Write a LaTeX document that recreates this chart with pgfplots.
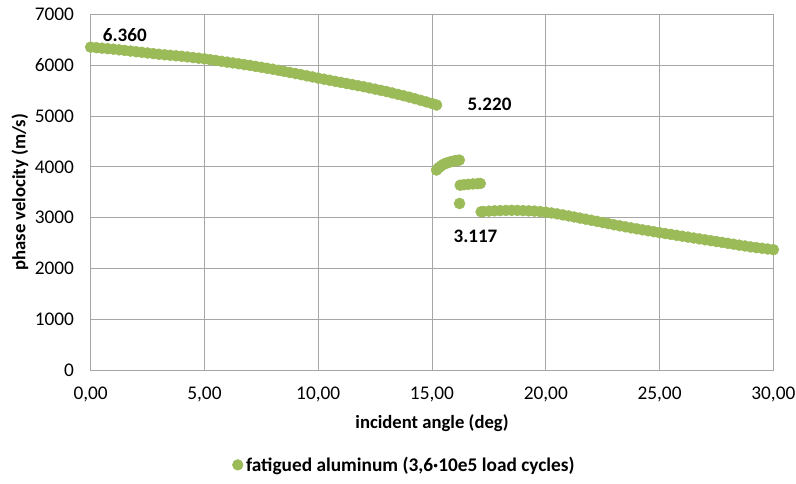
\documentclass[border=0pt]{standalone}
\usepackage{pgfplots}
\pgfplotsset{compat=1.18}
\usepackage{fontspec}
\setmainfont{Carlito}
\definecolor{olive}{HTML}{9BBB59}
\definecolor{gridc}{HTML}{A6A6A6}
\begin{document}
\begin{tikzpicture}
\useasboundingbox (-68pt,-85.5pt) rectangle (529pt,277.5pt);
\begin{axis}[
  scale only axis, width=512pt, height=266.5pt,
  xmin=0, xmax=30, ymin=0, ymax=7000,
  xtick={0,5,...,30}, ytick={0,1000,...,7000},
  grid=major, major grid style={gridc, line width=0.7pt},
  axis line style={gridc, line width=0.7pt},
  tick style={draw=none},
  clip=false,
  font=\fontsize{14.5}{16}\selectfont,
  /pgf/number format/assume math mode=true,
  xticklabel style={/pgf/number format/.cd, fixed, fixed zerofill, precision=2, use comma},
  yticklabel style={/pgf/number format/.cd, fixed, 1000 sep={}},
  xticklabel shift=9pt, yticklabel shift=9pt,
  scaled ticks=false,
  xlabel={\bfseries incident angle (deg)},
  ylabel={\bfseries phase velocity (m/s)},
  xlabel style={font=\fontsize{14}{16}\selectfont, yshift=-3pt},
  ylabel style={font=\fontsize{14}{16}\selectfont, yshift=-2pt},
  legend style={at={(0.46,-0.267)}, anchor=center, draw=none, font=\fontsize{14.5}{16}\selectfont\bfseries},
  legend image code/.code={\fill[olive] (0.15cm,0cm) circle (4pt);},
]
\addplot[only marks, mark=*, mark size=4.1pt, color=olive, mark options={draw=none, fill=olive}] table {
x y
0.00 6360
0.25 6350
0.50 6340
0.75 6330
1.00 6320
1.25 6308
1.50 6295
1.75 6283
2.00 6270
2.25 6258
2.50 6245
2.75 6233
3.00 6220
3.25 6210
3.50 6200
3.75 6190
4.00 6180
4.25 6168
4.50 6155
4.75 6143
5.00 6130
5.25 6114
5.50 6098
5.75 6081
6.00 6065
6.25 6049
6.50 6033
6.75 6016
7.00 6000
7.25 5981
7.50 5963
7.75 5944
8.00 5925
8.25 5904
8.50 5883
8.75 5861
9.00 5840
9.25 5818
9.50 5795
9.75 5773
10.00 5750
10.25 5729
10.50 5708
10.75 5686
11.00 5665
11.25 5644
11.50 5623
11.75 5601
12.00 5580
12.25 5556
12.50 5533
12.75 5509
13.00 5485
13.25 5458
13.50 5430
13.75 5403
14.00 5375
14.25 5344
14.50 5313
14.75 5281
15.00 5250
15.20 5220
15.20 3940
15.30 3985
15.40 4020
15.50 4050
15.60 4070
15.70 4085
15.80 4100
15.90 4110
16.00 4120
16.10 4128
16.20 4135
16.21 3280
16.24 3640
16.40 3650
16.60 3658
16.80 3665
17.00 3670
17.12 3675
17.16 3117
17.25 3122
17.50 3130
17.75 3136
18.00 3140
18.25 3143
18.50 3145
18.75 3143
19.00 3140
19.25 3135
19.50 3130
19.75 3121
20.00 3110
20.25 3093
20.50 3075
20.75 3055
21.00 3035
21.25 3014
21.50 2993
21.75 2971
22.00 2950
22.25 2928
22.50 2905
22.75 2883
23.00 2860
23.25 2840
23.50 2820
23.75 2800
24.00 2780
24.25 2761
24.50 2743
24.75 2724
25.00 2705
25.25 2688
25.50 2670
25.75 2653
26.00 2635
26.25 2618
26.50 2600
26.75 2583
27.00 2565
27.25 2548
27.50 2530
27.75 2513
28.00 2495
28.25 2478
28.50 2460
28.75 2443
29.00 2425
29.25 2411
29.50 2398
29.75 2384
30.00 2370
};
\addlegendentry{fatigued aluminum (3,6·10e5 load cycles)}
\node[font=\fontsize{14.3}{16}\selectfont\bfseries] at (axis cs:1.5,6590) {6.360};
\node[font=\fontsize{14.3}{16}\selectfont\bfseries] at (axis cs:17.53,5227) {5.220};
\node[font=\fontsize{14.3}{16}\selectfont\bfseries] at (axis cs:16.91,2643) {3.117};
\end{axis}
\end{tikzpicture}
\end{document}
